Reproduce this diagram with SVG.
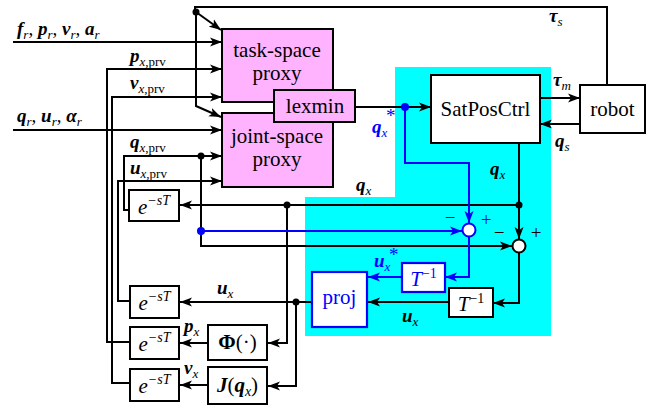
<svg xmlns="http://www.w3.org/2000/svg" width="653" height="407" viewBox="0 0 653 407">
<defs>
<style>
.t{font-family:"Liberation Serif","Times New Roman","DejaVu Serif",serif;font-size:21px;fill:#000}
.m{font-family:"Liberation Serif","Times New Roman","DejaVu Serif",serif;font-size:19px;fill:#000}
.v{font-weight:bold;font-style:italic}
.i{font-style:italic}
.s{font-size:13px}
.blue{fill:#0000ff}
.box{fill:#fff;stroke:#000;stroke-width:2}
.pink{fill:#ffb3ff;stroke:#000;stroke-width:2}
.bbox{fill:#fff;stroke:#0000ff;stroke-width:2.2}
.w{fill:none;stroke:#000;stroke-width:2}
.wb{fill:none;stroke:#0000ff;stroke-width:2}
.a{marker-end:url(#ah)}
.ab{marker-end:url(#ahb)}
</style>
<marker id="ah" markerUnits="userSpaceOnUse" markerWidth="13" markerHeight="10" refX="12" refY="5" orient="auto">
<path d="M0,0.5 L12,5 L0,9.5 L3,5 z" fill="#000"/>
</marker>
<marker id="ahb" markerUnits="userSpaceOnUse" markerWidth="13" markerHeight="10" refX="12" refY="5" orient="auto">
<path d="M0,0.5 L12,5 L0,9.5 L3,5 z" fill="#0000ff"/>
</marker>
</defs>
<rect width="653" height="407" fill="#fff"/>
<polygon points="395,67 551,67 551,336 305,336 305,197 395,197" fill="#00ffff"/>

<g id="connectors">
<polyline class="w" points="607,85 607,7 195,7 195,12"/>
<line class="w a" x1="196" y1="12" x2="221" y2="30"/>
<polyline class="w a" points="196,12 196,106 221,117"/>
<line class="w a" x1="13" y1="42" x2="222" y2="42"/>
<polyline class="w a" points="130,342 107,342 107,69 222,69"/>
<polyline class="w a" points="130,383 112,383 112,97 222,97"/>
<line class="w a" x1="13" y1="130" x2="222" y2="130"/>
<polyline class="w a" points="129,210 124,210 124,156 222,156"/>
<polyline class="w a" points="130,301 118,301 118,181 222,181"/>
<line class="w a" x1="355" y1="107" x2="431" y2="107"/>
<line class="w a" x1="540" y1="98" x2="580" y2="98"/>
<line class="w a" x1="580" y1="124" x2="540" y2="124"/>
<line class="w a" x1="519" y1="143" x2="519" y2="239"/>
<line class="w a" x1="519" y1="205" x2="180" y2="205"/>
<polyline class="w a" points="287,205 287,343 268,343"/>
<polyline class="wb ab" points="405,107 405,163 469,163 469,223"/>
<line class="wb ab" x1="201" y1="231" x2="462" y2="231"/>
<polyline class="w a" points="201,156 201,246 512,246"/>
<polyline class="wb ab" points="469,237 469,277 445,277"/>
<line class="wb ab" x1="402" y1="277" x2="368" y2="277"/>
<polyline class="w a" points="519,253 519,303 493,303"/>
<line class="w a" x1="449" y1="302" x2="368" y2="302"/>
<line class="w a" x1="312" y1="302" x2="180" y2="302"/>
<polyline class="w a" points="296,302 296,386 268,386"/>
<line class="w a" x1="208" y1="343" x2="180" y2="343"/>
<line class="w a" x1="208" y1="385" x2="180" y2="385"/>
<circle cx="196" cy="12" r="3.5" fill="#000"/>
<circle cx="405" cy="107" r="4" fill="#0000ff"/>
<circle cx="519" cy="205" r="3.5" fill="#000"/>
<circle cx="287" cy="205" r="3.5" fill="#000"/>
<circle cx="201" cy="156" r="3.5" fill="#000"/>
<circle cx="201" cy="231" r="4" fill="#0000ff"/>
<circle cx="296" cy="302" r="3.5" fill="#000"/>
</g>

<g id="task-space-proxy">
<rect class="pink" x="222" y="29" width="111" height="73"/>
<text class="t" x="277" y="57" text-anchor="middle">task-space</text>
<text class="t" x="277" y="80" text-anchor="middle">proxy</text>
</g>
<g id="joint-space-proxy">
<rect class="pink" x="222" y="113" width="111" height="74"/>
<text class="t" x="277" y="143" text-anchor="middle">joint-space</text>
<text class="t" x="277" y="166" text-anchor="middle">proxy</text>
</g>
<g id="lexmin">
<rect class="pink" x="274" y="90" width="81" height="32"/>
<text class="t" x="315" y="113" text-anchor="middle">lexmin</text>
</g>
<g id="satposctrl">
<rect class="box" x="431" y="75" width="109" height="68"/>
<text class="t" x="485.5" y="116" text-anchor="middle">SatPosCtrl</text>
</g>
<g id="robot">
<rect class="box" x="580" y="85" width="65" height="48"/>
<text class="t" x="612.5" y="116" text-anchor="middle">robot</text>
</g>
<g id="sum-blue">
<circle cx="469" cy="230" r="6.5" fill="#fff" stroke="#0000ff" stroke-width="2"/>
</g>
<g id="sum-black">
<circle cx="519" cy="246" r="6.5" fill="#fff" stroke="#000" stroke-width="2"/>
</g>
<g id="tinv-blue">
<rect class="bbox" x="402" y="263" width="43" height="29"/>
<text class="t blue" x="423.5" y="286" text-anchor="middle"><tspan class="i">T</tspan><tspan font-size="14" dy="-8">−1</tspan></text>
</g>
<g id="tinv-black">
<rect class="box" x="449" y="288" width="44" height="29"/>
<text class="t" x="471" y="311" text-anchor="middle"><tspan class="i">T</tspan><tspan font-size="14" dy="-8">−1</tspan></text>
</g>
<g id="proj">
<rect class="bbox" x="312" y="272" width="55" height="55"/>
<text class="t blue" x="339.5" y="304" text-anchor="middle">proj</text>
</g>
<g id="delay-1">
<rect class="box" x="129" y="190" width="50" height="31"/>
<text class="t" x="154" y="214" text-anchor="middle"><tspan class="i">e</tspan><tspan class="i" font-size="14" dy="-9">−sT</tspan></text>
</g>
<g id="delay-2">
<rect class="box" x="130" y="286" width="49" height="32"/>
<text class="t" x="154.5" y="310" text-anchor="middle"><tspan class="i">e</tspan><tspan class="i" font-size="14" dy="-9">−sT</tspan></text>
</g>
<g id="delay-3">
<rect class="box" x="130" y="327" width="49" height="32"/>
<text class="t" x="154.5" y="351" text-anchor="middle"><tspan class="i">e</tspan><tspan class="i" font-size="14" dy="-9">−sT</tspan></text>
</g>
<g id="delay-4">
<rect class="box" x="130" y="369" width="49" height="32"/>
<text class="t" x="154.5" y="393" text-anchor="middle"><tspan class="i">e</tspan><tspan class="i" font-size="14" dy="-9">−sT</tspan></text>
</g>
<g id="phi">
<rect class="box" x="208" y="325" width="59" height="35"/>
<text class="t" x="237.5" y="349" text-anchor="middle"><tspan font-weight="bold">Φ</tspan>(·)</text>
</g>
<g id="jacobian">
<rect class="box" x="208" y="367" width="59" height="37"/>
<text class="t" x="237.5" y="392" text-anchor="middle"><tspan class="v">J</tspan>(<tspan class="v">q</tspan><tspan class="i" font-size="14" dy="4">x</tspan><tspan dy="-4">)</tspan></text>
</g>

<g id="labels">
<text class="m" x="17" y="35"><tspan class="v">f</tspan><tspan class="i s" dy="4">r</tspan><tspan dy="-4">, </tspan><tspan class="v">p</tspan><tspan class="i s" dy="4">r</tspan><tspan dy="-4">, </tspan><tspan class="v">v</tspan><tspan class="i s" dy="4">r</tspan><tspan dy="-4">, </tspan><tspan class="v">a</tspan><tspan class="i s" dy="4">r</tspan></text>
<text class="m" x="17" y="122"><tspan class="v">q</tspan><tspan class="i s" dy="4">r</tspan><tspan dy="-4">, </tspan><tspan class="v">u</tspan><tspan class="i s" dy="4">r</tspan><tspan dy="-4">, </tspan><tspan class="v">α</tspan><tspan class="i s" dy="4">r</tspan></text>
<text class="m" x="130" y="62"><tspan class="v">p</tspan><tspan class="s" dy="4"><tspan class="i">x</tspan>,prv</tspan></text>
<text class="m" x="130" y="89"><tspan class="v">v</tspan><tspan class="s" dy="4"><tspan class="i">x</tspan>,prv</tspan></text>
<text class="m" x="130" y="148"><tspan class="v">q</tspan><tspan class="s" dy="4"><tspan class="i">x</tspan>,prv</tspan></text>
<text class="m" x="130" y="174"><tspan class="v">u</tspan><tspan class="s" dy="4"><tspan class="i">x</tspan>,prv</tspan></text>
<text class="m" x="356" y="191"><tspan class="v">q</tspan><tspan class="i s" dy="4">x</tspan></text>
<text class="m" x="490" y="175"><tspan class="v">q</tspan><tspan class="i s" dy="4">x</tspan></text>
<text class="m" x="549" y="22"><tspan class="v">τ</tspan><tspan class="i s" dy="4">s</tspan></text>
<text class="m" x="553" y="86"><tspan class="v">τ</tspan><tspan class="i s" dy="4">m</tspan></text>
<text class="m" x="555" y="147"><tspan class="v">q</tspan><tspan class="i s" dy="4">s</tspan></text>
<text class="m blue" x="372" y="133"><tspan class="v">q</tspan><tspan class="i s" dy="4">x</tspan></text>
<text class="m blue" x="386" y="122" font-size="15">*</text>
<text class="m blue" x="374" y="267"><tspan class="v">u</tspan><tspan class="i s" dy="4">x</tspan></text>
<text class="m blue" x="389" y="261" font-size="15">*</text>
<text class="m" x="402" y="322"><tspan class="v">u</tspan><tspan class="i s" dy="4">x</tspan></text>
<text class="m" x="217" y="294"><tspan class="v">u</tspan><tspan class="i s" dy="4">x</tspan></text>
<text class="m" x="184" y="332"><tspan class="v">p</tspan><tspan class="i s" dy="4">x</tspan></text>
<text class="m" x="184" y="374"><tspan class="v">v</tspan><tspan class="i s" dy="4">x</tspan></text>
<text class="m blue" x="450" y="224" text-anchor="middle">−</text>
<text class="m blue" x="486" y="226" text-anchor="middle">+</text>
<text class="m" x="499" y="239" text-anchor="middle">−</text>
<text class="m" x="536" y="239" text-anchor="middle">+</text>
</g>
</svg>
